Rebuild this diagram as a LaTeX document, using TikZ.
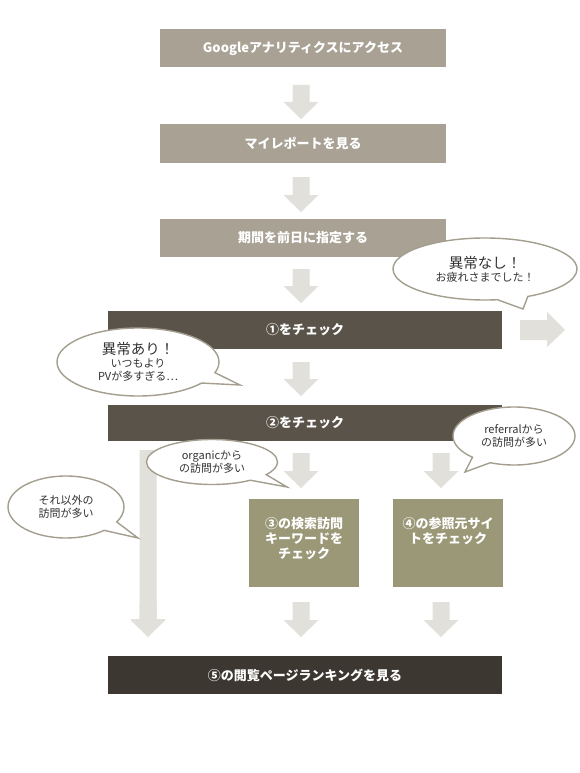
\documentclass[tikz,border=0pt]{standalone}
\usepackage{fontspec}
\setmainfont{Noto Sans CJK JP}
\usetikzlibrary{shapes.callouts}
\definecolor{boxlight}{HTML}{A8A194}
\definecolor{boxdark}{HTML}{5A5349}
\definecolor{boxdarkest}{HTML}{3C3731}
\definecolor{boxolive}{HTML}{9A9877}
\definecolor{arrowfill}{HTML}{E1E0DB}
\definecolor{bubbleline}{HTML}{A39E8E}
\definecolor{bubbletext}{HTML}{333333}
\newcommand\DArr[3]{%
  \fill[arrowfill] (#1-8.5,#2) -- (#1+8.5,#2) -- (#1+8.5,#3-17) -- (#1+17.5,#3-17)
    -- (#1,#3) -- (#1-17.5,#3-17) -- (#1-8.5,#3-17) -- cycle;}
\begin{document}
\begin{tikzpicture}[x=1pt,y=-1pt,
  stepbox/.style={rectangle, inner sep=0pt, text=white,
    font=\fontsize{13}{15}\selectfont\bfseries},
  lightbox/.style={stepbox, fill=boxlight, minimum width=286pt, minimum height=38pt},
  darkbox/.style={stepbox, fill=boxdark, minimum width=394pt, minimum height=38pt},
  olivebox/.style={stepbox, fill=boxolive, minimum width=110pt, minimum height=88pt},
  bubble/.style={ellipse callout, draw=bubbleline, line width=1.4pt, fill=white,
    text=bubbletext, align=center, inner sep=0pt, callout pointer arc=20,
    font=\fontsize{11}{13}\selectfont}]
\useasboundingbox (0,0) rectangle (580,773);
\fill[white] (0,0) rectangle (580,773);

% main boxes
\node[lightbox] (b1) at (303,48.5) {Googleアナリティクスにアクセス};
\node[lightbox] (b2) at (303,143.5) {マイレポートを見る};
\node[lightbox] (b3) at (303,238) {期間を前日に指定する};
\node[darkbox] (c1) at (305,330) {①をチェック};
\node[darkbox, minimum height=36pt] (c2) at (305,423) {②をチェック};
\node[olivebox] (k3) at (304,543) {};
\node[olivebox] (k4) at (448,543) {};
\node[stepbox, anchor=north, text width=104pt, align=center]
  (t3) at ([yshift=-18pt]k3.north) {③の検索訪問\\キーワードを\\チェック};
\node[stepbox, anchor=north, text width=104pt, align=center]
  (t4) at ([yshift=-18pt]k4.north) {④の参照元サイ\\トをチェック};
\node[darkbox, fill=boxdarkest] (b5) at (305,675) {⑤の閲覧ページランキングを見る};

% block arrows
\DArr{301}{85}{119}
\DArr{301}{177}{212}
\DArr{301}{269}{303}
\DArr{301}{362}{396}
\DArr{148}{450}{636}
\DArr{301}{453}{488}
\DArr{441}{453}{488}
\DArr{148}{602}{637}
\DArr{301}{602}{637}
\DArr{441}{602}{637}
\fill[arrowfill] (520,320) -- (547,320) -- (547,312) -- (565,330) -- (547,347)
  -- (547,340) -- (520,340) -- cycle;

% speech bubbles
\node[bubble, minimum width=184pt, minimum height=62pt,
  callout absolute pointer={(523,309)}] (n1) at (485,269)
  {{\fontsize{14.5}{19}\selectfont 異常なし！}\\お疲れさまでした！};
\node[bubble, minimum width=162pt, minimum height=68pt,
  callout absolute pointer={(240,385)}] (n2) at (138,362)
  {{\fontsize{14.5}{15}\selectfont 異常あり！}\\いつもより\\PVが多すぎる…};
\node[bubble, minimum width=131pt, minimum height=45pt,
  callout absolute pointer={(287,487)}] (n3) at (212,462)
  {organicから\\の訪問が多い};
\node[bubble, minimum width=122pt, minimum height=58pt,
  callout absolute pointer={(465,472)}] (n4) at (514,436)
  {referralから\\の訪問が多い};
\node[bubble, minimum width=116pt, minimum height=62pt,
  callout absolute pointer={(138,538)}] (n5) at (66,507)
  {それ以外の\\訪問が多い};
\end{tikzpicture}
\end{document}
